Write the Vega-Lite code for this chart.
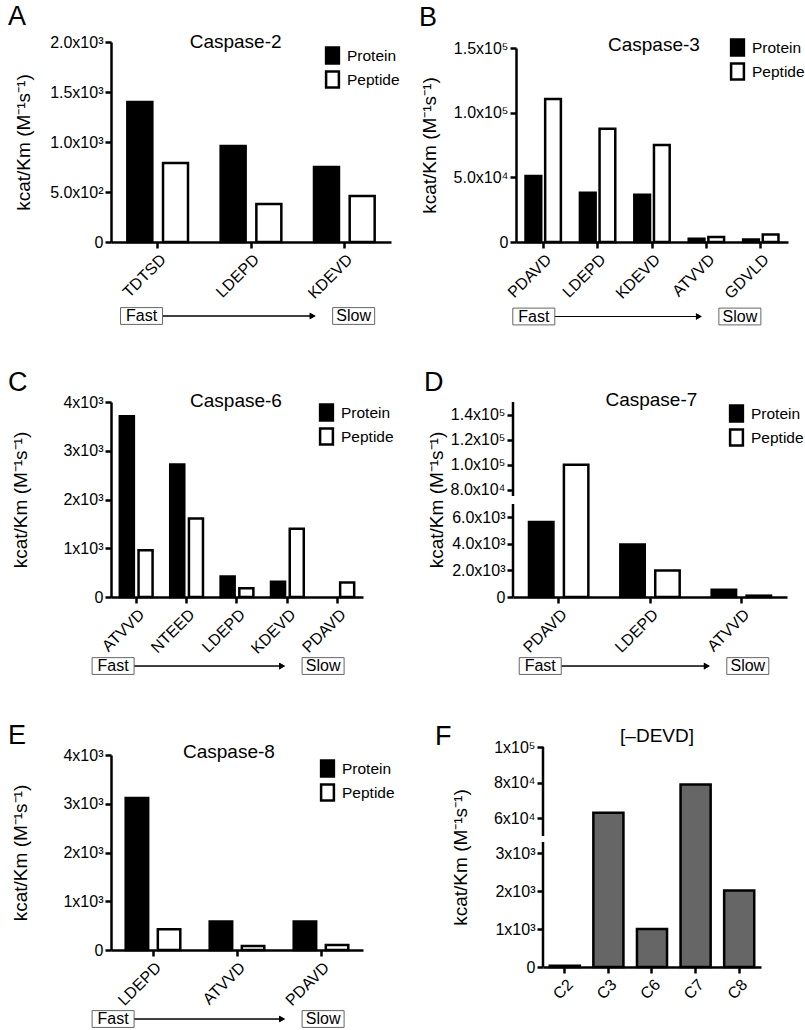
{
  "$schema": "https://vega.github.io/schema/vega-lite/v6.json",
  "padding": {"left": 7, "top": 3, "right": 0, "bottom": 0},
  "background": "white",
  "datasets": {
    "A": [
      {"substrate": "TDTSD", "type": "Protein", "value": 1400},
      {"substrate": "TDTSD", "type": "Peptide", "value": 790},
      {"substrate": "LDEPD", "type": "Protein", "value": 960},
      {"substrate": "LDEPD", "type": "Peptide", "value": 380},
      {"substrate": "KDEVD", "type": "Protein", "value": 750},
      {"substrate": "KDEVD", "type": "Peptide", "value": 460}
    ],
    "B": [
      {"substrate": "PDAVD", "type": "Protein", "value": 51000},
      {"substrate": "PDAVD", "type": "Peptide", "value": 110500},
      {"substrate": "LDEPD", "type": "Protein", "value": 38000},
      {"substrate": "LDEPD", "type": "Peptide", "value": 87500},
      {"substrate": "KDEVD", "type": "Protein", "value": 36500},
      {"substrate": "KDEVD", "type": "Peptide", "value": 75000},
      {"substrate": "ATVVD", "type": "Protein", "value": 2500},
      {"substrate": "ATVVD", "type": "Peptide", "value": 3800},
      {"substrate": "GDVLD", "type": "Protein", "value": 2000},
      {"substrate": "GDVLD", "type": "Peptide", "value": 5800}
    ],
    "C": [
      {"substrate": "ATVVD", "type": "Protein", "value": 3710},
      {"substrate": "ATVVD", "type": "Peptide", "value": 960},
      {"substrate": "NTEED", "type": "Protein", "value": 2720},
      {"substrate": "NTEED", "type": "Peptide", "value": 1610},
      {"substrate": "LDEPD", "type": "Protein", "value": 420},
      {"substrate": "LDEPD", "type": "Peptide", "value": 180},
      {"substrate": "KDEVD", "type": "Protein", "value": 315},
      {"substrate": "KDEVD", "type": "Peptide", "value": 1400},
      {"substrate": "PDAVD", "type": "Peptide", "value": 295}
    ],
    "D": [
      {"substrate": "PDAVD", "type": "Protein", "value": 5650},
      {"substrate": "PDAVD", "type": "Peptide", "value": 100000},
      {"substrate": "LDEPD", "type": "Protein", "value": 3950},
      {"substrate": "LDEPD", "type": "Peptide", "value": 2000},
      {"substrate": "ATVVD", "type": "Protein", "value": 550},
      {"substrate": "ATVVD", "type": "Peptide", "value": 100}
    ],
    "E": [
      {"substrate": "LDEPD", "type": "Protein", "value": 3120},
      {"substrate": "LDEPD", "type": "Peptide", "value": 425},
      {"substrate": "ATVVD", "type": "Protein", "value": 585},
      {"substrate": "ATVVD", "type": "Peptide", "value": 80},
      {"substrate": "PDAVD", "type": "Protein", "value": 585},
      {"substrate": "PDAVD", "type": "Peptide", "value": 105}
    ],
    "F": [
      {"caspase": "C2", "value": 35},
      {"caspase": "C3", "value": 63000},
      {"caspase": "C6", "value": 1000},
      {"caspase": "C7", "value": 79000},
      {"caspase": "C8", "value": 2020}
    ],
    "FS": [{"label": "Fast"}, {"label": "Slow"}],
    "brkD": [{"lo": 0, "hi": 7000}, {"lo": 75000, "hi": 150000}],
    "brkF": [{"lo": 0, "hi": 3300}, {"lo": 50000, "hi": 100000}]
  },
  "resolve": {"scale": {"xOffset": "independent", "fill": "independent"}, "legend": {"fill": "independent"}},
  "columns": 1,
  "align": "none",
  "spacing": 45,
  "concat": [
    {
      "resolve": {"scale": {"xOffset": "independent", "fill": "independent"}, "legend": {"fill": "independent"}},
      "columns": 1,
      "align": "none",
      "spacing": 41,
      "concat": [
        {
          "resolve": {"scale": {"xOffset": "independent", "fill": "independent"}, "legend": {"fill": "independent"}},
          "columns": 2,
          "align": "none",
          "spacing": 18,
          "concat": [
            {
              "width": 280, "height": 200,
              "resolve": {"scale": {"x": "independent", "y": "independent"}},
              "layer": [
                {
                  "data": {"name": "A"},
                  "mark": {"type": "bar", "stroke": "black", "strokeWidth": 2.5},
                  "encoding": {
                    "x": {"field": "substrate", "type": "nominal", "sort": null, "title": null, "scale": {"paddingInner": 0.35, "paddingOuter": 0.175}},
                    "xOffset": {"field": "type", "type": "nominal", "sort": ["Protein", "Peptide"], "scale": {"domain": ["Protein", "Peptide"], "paddingInner": 0.3}},
                    "y": {"field": "value", "type": "quantitative", "scale": {"domain": [0, 2000], "nice": false}, "axis": {"titlePadding": 16, "tickCount": 20, "labelOverlap": false, "values": [0, 500, 1000, 1500, 2000], "labelExpr": "datum.value == 0 ? '0' : datum.value < 1000 ? format(datum.value/100, '.1f') + 'x10²' : format(datum.value/1000, '.1f') + 'x10³'", "title": "kcat/Km (M⁻¹s⁻¹)"}},
                    "fill": {"field": "type", "type": "nominal", "scale": {"domain": ["Protein", "Peptide"], "range": ["black", "white"]}, "legend": {"orient": "none", "legendX": 212, "legendY": 4}}
                  }
                },
                {
                  "data": {"values": [{"t": "A"}]},
                  "mark": {"type": "text", "fontSize": 27, "align": "left", "baseline": "middle", "color": "black"},
                  "encoding": {"text": {"field": "t"}, "x": {"datum": -0.368, "type": "quantitative", "scale": {"domain": [0, 1]}, "axis": null}, "y": {"datum": 1.125, "type": "quantitative", "scale": {"domain": [0, 1]}, "axis": null}}
                },
                {
                  "data": {"values": [{"t": "Caspase-2"}]},
                  "mark": {"type": "text", "fontSize": 19, "align": "center", "baseline": "middle", "color": "black"},
                  "encoding": {"text": {"field": "t"}, "x": {"datum": 0.445, "type": "quantitative", "scale": {"domain": [0, 1]}, "axis": null}, "y": {"datum": 1.0, "type": "quantitative", "scale": {"domain": [0, 1]}, "axis": null}}
                },
                {
                  "data": {"name": "FS"},
                  "mark": {"type": "rule", "color": "black", "strokeWidth": 1, "x2Offset": -42},
                  "encoding": {"x": {"datum": "Fast", "type": "nominal", "scale": {"type": "point", "domain": ["Fast", "Slow"], "padding": 0.16, "align": 0.45}, "axis": null}, "x2": {"datum": "Slow"}, "y": {"datum": -0.37, "type": "quantitative", "scale": {"domain": [0, 1]}, "axis": null}}
                },
                {
                  "data": {"name": "FS"},
                  "mark": {"type": "point", "shape": "triangle-right", "filled": true, "color": "black", "opacity": 1, "size": 45, "xOffset": -41},
                  "encoding": {"x": {"datum": "Slow", "type": "nominal", "scale": {"type": "point", "domain": ["Fast", "Slow"], "padding": 0.16, "align": 0.45}, "axis": null}, "y": {"datum": -0.37, "type": "quantitative", "scale": {"domain": [0, 1]}, "axis": null}}
                },
                {
                  "data": {"name": "FS"},
                  "mark": {"type": "point", "shape": "M-1,-0.4H1V0.4H-1Z", "filled": true, "fill": "white", "stroke": "#666", "strokeWidth": 1, "size": 1764, "opacity": 1},
                  "encoding": {"x": {"field": "label", "type": "nominal", "scale": {"type": "point", "domain": ["Fast", "Slow"], "padding": 0.16, "align": 0.45}, "axis": null}, "y": {"datum": -0.37, "type": "quantitative", "scale": {"domain": [0, 1]}, "axis": null}}
                },
                {
                  "data": {"name": "FS"},
                  "mark": {"type": "text", "fontSize": 16, "color": "black", "baseline": "middle"},
                  "encoding": {"text": {"field": "label"}, "x": {"field": "label", "type": "nominal", "scale": {"type": "point", "domain": ["Fast", "Slow"], "padding": 0.16, "align": 0.45}, "axis": null}, "y": {"datum": -0.37, "type": "quantitative", "scale": {"domain": [0, 1]}, "axis": null}}
                }
              ]
            },
            {
              "width": 272, "height": 200,
              "resolve": {"scale": {"x": "independent", "y": "independent"}},
              "layer": [
                {
                  "data": {"name": "B"},
                  "mark": {"type": "bar", "stroke": "black", "strokeWidth": 2.5},
                  "encoding": {
                    "x": {"field": "substrate", "type": "nominal", "sort": null, "title": null, "scale": {"paddingInner": 0.35, "paddingOuter": 0.175}},
                    "xOffset": {"field": "type", "type": "nominal", "sort": ["Protein", "Peptide"], "scale": {"domain": ["Protein", "Peptide"], "paddingInner": 0.2}},
                    "y": {"field": "value", "type": "quantitative", "scale": {"domain": [0, 150000], "range": [200, 6], "nice": false}, "axis": {"titlePadding": 14, "tickCount": 20, "labelOverlap": false, "values": [0, 50000, 100000, 150000], "labelExpr": "datum.value == 0 ? '0' : datum.value < 100000 ? format(datum.value/10000, '.1f') + 'x10⁴' : format(datum.value/100000, '.1f') + 'x10⁵'", "title": "kcat/Km (M⁻¹s⁻¹)"}},
                    "fill": {"field": "type", "type": "nominal", "scale": {"domain": ["Protein", "Peptide"], "range": ["black", "white"]}, "legend": {"orient": "none", "legendX": 212, "legendY": -4}}
                  }
                },
                {
                  "data": {"values": [{"t": "B"}]},
                  "mark": {"type": "text", "fontSize": 27, "align": "left", "baseline": "middle", "color": "black"},
                  "encoding": {"text": {"field": "t"}, "x": {"datum": -0.357, "type": "quantitative", "scale": {"domain": [0, 1]}, "axis": null}, "y": {"datum": 1.1225, "type": "quantitative", "scale": {"domain": [0, 1]}, "axis": null}}
                },
                {
                  "data": {"values": [{"t": "Caspase-3"}]},
                  "mark": {"type": "text", "fontSize": 19, "align": "center", "baseline": "middle", "color": "black"},
                  "encoding": {"text": {"field": "t"}, "x": {"datum": 0.507, "type": "quantitative", "scale": {"domain": [0, 1]}, "axis": null}, "y": {"datum": 0.985, "type": "quantitative", "scale": {"domain": [0, 1]}, "axis": null}}
                },
                {
                  "data": {"name": "FS"},
                  "mark": {"type": "rule", "color": "black", "strokeWidth": 1, "x2Offset": -42},
                  "encoding": {"x": {"datum": "Fast", "type": "nominal", "scale": {"type": "point", "domain": ["Fast", "Slow"], "padding": 0.16, "align": 0.27}, "axis": null}, "x2": {"datum": "Slow"}, "y": {"datum": -0.3725, "type": "quantitative", "scale": {"domain": [0, 1]}, "axis": null}}
                },
                {
                  "data": {"name": "FS"},
                  "mark": {"type": "point", "shape": "triangle-right", "filled": true, "color": "black", "opacity": 1, "size": 45, "xOffset": -41},
                  "encoding": {"x": {"datum": "Slow", "type": "nominal", "scale": {"type": "point", "domain": ["Fast", "Slow"], "padding": 0.16, "align": 0.27}, "axis": null}, "y": {"datum": -0.3725, "type": "quantitative", "scale": {"domain": [0, 1]}, "axis": null}}
                },
                {
                  "data": {"name": "FS"},
                  "mark": {"type": "point", "shape": "M-1,-0.4H1V0.4H-1Z", "filled": true, "fill": "white", "stroke": "#666", "strokeWidth": 1, "size": 1764, "opacity": 1},
                  "encoding": {"x": {"field": "label", "type": "nominal", "scale": {"type": "point", "domain": ["Fast", "Slow"], "padding": 0.16, "align": 0.27}, "axis": null}, "y": {"datum": -0.3725, "type": "quantitative", "scale": {"domain": [0, 1]}, "axis": null}}
                },
                {
                  "data": {"name": "FS"},
                  "mark": {"type": "text", "fontSize": 16, "color": "black", "baseline": "middle"},
                  "encoding": {"text": {"field": "label"}, "x": {"field": "label", "type": "nominal", "scale": {"type": "point", "domain": ["Fast", "Slow"], "padding": 0.16, "align": 0.27}, "axis": null}, "y": {"datum": -0.3725, "type": "quantitative", "scale": {"domain": [0, 1]}, "axis": null}}
                }
              ]
            }
          ]
        },
        {
          "resolve": {"scale": {"xOffset": "independent", "fill": "independent"}, "legend": {"fill": "independent"}},
          "columns": 2,
          "align": "none",
          "spacing": 29,
          "concat": [
            {
              "width": 252, "height": 195,
              "resolve": {"scale": {"x": "independent", "y": "independent"}},
              "layer": [
                {
                  "data": {"name": "C"},
                  "mark": {"type": "bar", "stroke": "black", "strokeWidth": 2.5},
                  "encoding": {
                    "x": {"field": "substrate", "type": "nominal", "sort": null, "title": null, "scale": {"paddingInner": 0.35, "paddingOuter": 0.175}},
                    "xOffset": {"field": "type", "type": "nominal", "sort": ["Protein", "Peptide"], "scale": {"domain": ["Protein", "Peptide"], "paddingInner": 0.25}},
                    "y": {"field": "value", "type": "quantitative", "scale": {"domain": [0, 4000], "nice": false}, "axis": {"titlePadding": 32, "tickCount": 20, "labelOverlap": false, "values": [0, 1000, 2000, 3000, 4000], "labelExpr": "datum.value == 0 ? '0' : (datum.value/1000) + 'x10³'", "title": "kcat/Km (M⁻¹s⁻¹)"}},
                    "fill": {"field": "type", "type": "nominal", "scale": {"domain": ["Protein", "Peptide"], "range": ["black", "white"]}, "legend": {"orient": "none", "legendX": 206, "legendY": 1}}
                  }
                },
                {
                  "data": {"values": [{"t": "C"}]},
                  "mark": {"type": "text", "fontSize": 27, "align": "left", "baseline": "middle", "color": "black"},
                  "encoding": {"text": {"field": "t"}, "x": {"datum": -0.409, "type": "quantitative", "scale": {"domain": [0, 1]}, "axis": null}, "y": {"datum": 1.1, "type": "quantitative", "scale": {"domain": [0, 1]}, "axis": null}}
                },
                {
                  "data": {"values": [{"t": "Caspase-6"}]},
                  "mark": {"type": "text", "fontSize": 19, "align": "center", "baseline": "middle", "color": "black"},
                  "encoding": {"text": {"field": "t"}, "x": {"datum": 0.496, "type": "quantitative", "scale": {"domain": [0, 1]}, "axis": null}, "y": {"datum": 1.005, "type": "quantitative", "scale": {"domain": [0, 1]}, "axis": null}}
                },
                {
                  "data": {"name": "FS"},
                  "mark": {"type": "rule", "color": "black", "strokeWidth": 1, "x2Offset": -42},
                  "encoding": {"x": {"datum": "Fast", "type": "nominal", "scale": {"type": "point", "domain": ["Fast", "Slow"], "padding": 0.1, "align": 0.05}, "axis": null}, "x2": {"datum": "Slow"}, "y": {"datum": -0.354, "type": "quantitative", "scale": {"domain": [0, 1]}, "axis": null}}
                },
                {
                  "data": {"name": "FS"},
                  "mark": {"type": "point", "shape": "triangle-right", "filled": true, "color": "black", "opacity": 1, "size": 45, "xOffset": -41},
                  "encoding": {"x": {"datum": "Slow", "type": "nominal", "scale": {"type": "point", "domain": ["Fast", "Slow"], "padding": 0.1, "align": 0.05}, "axis": null}, "y": {"datum": -0.354, "type": "quantitative", "scale": {"domain": [0, 1]}, "axis": null}}
                },
                {
                  "data": {"name": "FS"},
                  "mark": {"type": "point", "shape": "M-1,-0.4H1V0.4H-1Z", "filled": true, "fill": "white", "stroke": "#666", "strokeWidth": 1, "size": 1764, "opacity": 1},
                  "encoding": {"x": {"field": "label", "type": "nominal", "scale": {"type": "point", "domain": ["Fast", "Slow"], "padding": 0.1, "align": 0.05}, "axis": null}, "y": {"datum": -0.354, "type": "quantitative", "scale": {"domain": [0, 1]}, "axis": null}}
                },
                {
                  "data": {"name": "FS"},
                  "mark": {"type": "text", "fontSize": 16, "color": "black", "baseline": "middle"},
                  "encoding": {"text": {"field": "label"}, "x": {"field": "label", "type": "nominal", "scale": {"type": "point", "domain": ["Fast", "Slow"], "padding": 0.1, "align": 0.05}, "axis": null}, "y": {"datum": -0.354, "type": "quantitative", "scale": {"domain": [0, 1]}, "axis": null}}
                }
              ]
            },
            {
              "width": 274, "height": 195,
              "resolve": {"scale": {"x": "independent", "y": "independent"}},
              "layer": [
                {
                  "data": {"name": "D"},
                  "mark": {"type": "bar", "stroke": "black", "strokeWidth": 2.5},
                  "encoding": {
                    "x": {"field": "substrate", "type": "nominal", "sort": null, "title": null, "scale": {"paddingInner": 0.35, "paddingOuter": 0.175}},
                    "xOffset": {"field": "type", "type": "nominal", "sort": ["Protein", "Peptide"], "scale": {"domain": ["Protein", "Peptide"], "paddingInner": 0.3}},
                    "y": {"field": "value", "type": "quantitative", "scale": {"domain": [0, 7000, 75000, 150000], "range": [195, 102, 94, 0], "nice": false, "zero": false}, "axis": {"titlePadding": 4, "tickCount": 20, "labelOverlap": false, "domain": false, "values": [0, 2000, 4000, 6000, 80000, 100000, 120000, 140000], "labelExpr": "datum.value == 0 ? '0' : datum.value < 10000 ? format(datum.value/1000, '.1f') + 'x10³' : datum.value < 100000 ? format(datum.value/10000, '.1f') + 'x10⁴' : format(datum.value/100000, '.1f') + 'x10⁵'", "title": "kcat/Km (M⁻¹s⁻¹)"}},
                    "fill": {"field": "type", "type": "nominal", "scale": {"domain": ["Protein", "Peptide"], "range": ["black", "white"]}, "legend": {"orient": "none", "legendX": 214, "legendY": 2}}
                  }
                },
                {
                  "data": {"name": "brkD"},
                  "mark": {"type": "rule", "color": "black", "strokeWidth": 2.5},
                  "encoding": {
                    "x": {"datum": 0, "type": "quantitative", "scale": {"domain": [0, 1]}, "axis": null},
                    "y": {"field": "lo", "type": "quantitative", "scale": {"domain": [0, 7000, 75000, 150000], "range": [195, 102, 94, 0], "nice": false, "zero": false}, "axis": null},
                    "y2": {"field": "hi"}
                  }
                },
                {
                  "data": {"values": [{"t": "D"}]},
                  "mark": {"type": "text", "fontSize": 27, "align": "left", "baseline": "middle", "color": "black"},
                  "encoding": {"text": {"field": "t"}, "x": {"datum": -0.325, "type": "quantitative", "scale": {"domain": [0, 1]}, "axis": null}, "y": {"datum": 1.1, "type": "quantitative", "scale": {"domain": [0, 1]}, "axis": null}}
                },
                {
                  "data": {"values": [{"t": "Caspase-7"}]},
                  "mark": {"type": "text", "fontSize": 19, "align": "center", "baseline": "middle", "color": "black"},
                  "encoding": {"text": {"field": "t"}, "x": {"datum": 0.505, "type": "quantitative", "scale": {"domain": [0, 1]}, "axis": null}, "y": {"datum": 1.01, "type": "quantitative", "scale": {"domain": [0, 1]}, "axis": null}}
                },
                {
                  "data": {"name": "FS"},
                  "mark": {"type": "rule", "color": "black", "strokeWidth": 1, "x2Offset": -42},
                  "encoding": {"x": {"datum": "Fast", "type": "nominal", "scale": {"type": "point", "domain": ["Fast", "Slow"], "padding": 0.16, "align": 0.41}, "axis": null}, "x2": {"datum": "Slow"}, "y": {"datum": -0.354, "type": "quantitative", "scale": {"domain": [0, 1]}, "axis": null}}
                },
                {
                  "data": {"name": "FS"},
                  "mark": {"type": "point", "shape": "triangle-right", "filled": true, "color": "black", "opacity": 1, "size": 45, "xOffset": -41},
                  "encoding": {"x": {"datum": "Slow", "type": "nominal", "scale": {"type": "point", "domain": ["Fast", "Slow"], "padding": 0.16, "align": 0.41}, "axis": null}, "y": {"datum": -0.354, "type": "quantitative", "scale": {"domain": [0, 1]}, "axis": null}}
                },
                {
                  "data": {"name": "FS"},
                  "mark": {"type": "point", "shape": "M-1,-0.4H1V0.4H-1Z", "filled": true, "fill": "white", "stroke": "#666", "strokeWidth": 1, "size": 1764, "opacity": 1},
                  "encoding": {"x": {"field": "label", "type": "nominal", "scale": {"type": "point", "domain": ["Fast", "Slow"], "padding": 0.16, "align": 0.41}, "axis": null}, "y": {"datum": -0.354, "type": "quantitative", "scale": {"domain": [0, 1]}, "axis": null}}
                },
                {
                  "data": {"name": "FS"},
                  "mark": {"type": "text", "fontSize": 16, "color": "black", "baseline": "middle"},
                  "encoding": {"text": {"field": "label"}, "x": {"field": "label", "type": "nominal", "scale": {"type": "point", "domain": ["Fast", "Slow"], "padding": 0.16, "align": 0.41}, "axis": null}, "y": {"datum": -0.354, "type": "quantitative", "scale": {"domain": [0, 1]}, "axis": null}}
                }
              ]
            }
          ]
        }
      ]
    },
    {
      "resolve": {"scale": {"xOffset": "independent", "fill": "independent"}, "legend": {"fill": "independent"}},
      "columns": 2,
      "align": "none",
      "spacing": 40,
      "concat": [
        {
          "width": 252, "height": 203,
          "resolve": {"scale": {"x": "independent", "y": "independent"}},
          "layer": [
            {
              "data": {"name": "E"},
              "mark": {"type": "bar", "stroke": "black", "strokeWidth": 2.5},
              "encoding": {
                "x": {"field": "substrate", "type": "nominal", "sort": null, "title": null, "scale": {"paddingInner": 0.35, "paddingOuter": 0.175}},
                "xOffset": {"field": "type", "type": "nominal", "sort": ["Protein", "Peptide"], "scale": {"domain": ["Protein", "Peptide"], "paddingInner": 0.3}},
                "y": {"field": "value", "type": "quantitative", "scale": {"domain": [0, 4000], "range": [203, 8], "nice": false}, "axis": {"titlePadding": 32, "tickCount": 20, "labelOverlap": false, "values": [0, 1000, 2000, 3000, 4000], "labelExpr": "datum.value == 0 ? '0' : (datum.value/1000) + 'x10³'", "title": "kcat/Km (M⁻¹s⁻¹)"}},
                "fill": {"field": "type", "type": "nominal", "scale": {"domain": ["Protein", "Peptide"], "range": ["black", "white"]}, "legend": {"orient": "none", "legendX": 207, "legendY": 12}}
              }
            },
            {
              "data": {"values": [{"t": "E"}]},
              "mark": {"type": "text", "fontSize": 27, "align": "left", "baseline": "middle", "color": "black"},
              "encoding": {"text": {"field": "t"}, "x": {"datum": -0.409, "type": "quantitative", "scale": {"domain": [0, 1]}, "axis": null}, "y": {"datum": 1.052, "type": "quantitative", "scale": {"domain": [0, 1]}, "axis": null}}
            },
            {
              "data": {"values": [{"t": "Caspase-8"}]},
              "mark": {"type": "text", "fontSize": 19, "align": "center", "baseline": "middle", "color": "black"},
              "encoding": {"text": {"field": "t"}, "x": {"datum": 0.468, "type": "quantitative", "scale": {"domain": [0, 1]}, "axis": null}, "y": {"datum": 0.975, "type": "quantitative", "scale": {"domain": [0, 1]}, "axis": null}}
            },
            {
              "data": {"name": "FS"},
              "mark": {"type": "rule", "color": "black", "strokeWidth": 1, "x2Offset": -42},
              "encoding": {"x": {"datum": "Fast", "type": "nominal", "scale": {"type": "point", "domain": ["Fast", "Slow"], "padding": 0.1, "align": 0.05}, "axis": null}, "x2": {"datum": "Slow"}, "y": {"datum": -0.34, "type": "quantitative", "scale": {"domain": [0, 1]}, "axis": null}}
            },
            {
              "data": {"name": "FS"},
              "mark": {"type": "point", "shape": "triangle-right", "filled": true, "color": "black", "opacity": 1, "size": 45, "xOffset": -41},
              "encoding": {"x": {"datum": "Slow", "type": "nominal", "scale": {"type": "point", "domain": ["Fast", "Slow"], "padding": 0.1, "align": 0.05}, "axis": null}, "y": {"datum": -0.34, "type": "quantitative", "scale": {"domain": [0, 1]}, "axis": null}}
            },
            {
              "data": {"name": "FS"},
              "mark": {"type": "point", "shape": "M-1,-0.4H1V0.4H-1Z", "filled": true, "fill": "white", "stroke": "#666", "strokeWidth": 1, "size": 1764, "opacity": 1},
              "encoding": {"x": {"field": "label", "type": "nominal", "scale": {"type": "point", "domain": ["Fast", "Slow"], "padding": 0.1, "align": 0.05}, "axis": null}, "y": {"datum": -0.34, "type": "quantitative", "scale": {"domain": [0, 1]}, "axis": null}}
            },
            {
              "data": {"name": "FS"},
              "mark": {"type": "text", "fontSize": 16, "color": "black", "baseline": "middle"},
              "encoding": {"text": {"field": "label"}, "x": {"field": "label", "type": "nominal", "scale": {"type": "point", "domain": ["Fast", "Slow"], "padding": 0.1, "align": 0.05}, "axis": null}, "y": {"datum": -0.34, "type": "quantitative", "scale": {"domain": [0, 1]}, "axis": null}}
            }
          ]
        },
        {
          "width": 218, "height": 220,
          "resolve": {"scale": {"x": "independent", "y": "independent"}},
          "layer": [
            {
              "data": {"name": "F"},
              "mark": {"type": "bar", "stroke": "black", "strokeWidth": 2.5, "fill": "#666666"},
              "encoding": {
                "x": {"field": "caspase", "type": "nominal", "sort": null, "title": null, "scale": {"paddingInner": 0.31, "paddingOuter": 0.155}},
                "y": {"field": "value", "type": "quantitative", "scale": {"domain": [0, 3300, 50000, 100000], "range": [220, 95, 89, 0], "nice": false, "zero": false}, "axis": {"titlePadding": 23, "tickCount": 20, "labelOverlap": false, "domain": false, "values": [0, 1000, 2000, 3000, 60000, 80000, 100000], "labelExpr": "datum.value == 0 ? '0' : datum.value < 10000 ? (datum.value/1000) + 'x10³' : datum.value < 100000 ? (datum.value/10000) + 'x10⁴' : (datum.value/100000) + 'x10⁵'", "title": "kcat/Km (M⁻¹s⁻¹)"}}
              }
            },
            {
              "data": {"name": "brkF"},
              "mark": {"type": "rule", "color": "black", "strokeWidth": 2.5},
              "encoding": {
                "x": {"datum": 0, "type": "quantitative", "scale": {"domain": [0, 1]}, "axis": null},
                "y": {"field": "lo", "type": "quantitative", "scale": {"domain": [0, 3300, 50000, 100000], "range": [220, 95, 89, 0], "nice": false, "zero": false}, "axis": null},
                "y2": {"field": "hi"}
              }
            },
            {
              "data": {"values": [{"t": "F"}]},
              "mark": {"type": "text", "fontSize": 27, "align": "left", "baseline": "middle", "color": "black"},
              "encoding": {"text": {"field": "t"}, "x": {"datum": -0.495, "type": "quantitative", "scale": {"domain": [0, 1]}, "axis": null}, "y": {"datum": 1.046, "type": "quantitative", "scale": {"domain": [0, 1]}, "axis": null}}
            },
            {
              "data": {"values": [{"t": "[–DEVD]"}]},
              "mark": {"type": "text", "fontSize": 19, "align": "center", "baseline": "middle", "color": "black"},
              "encoding": {"text": {"field": "t"}, "x": {"datum": 0.523, "type": "quantitative", "scale": {"domain": [0, 1]}, "axis": null}, "y": {"datum": 1.05, "type": "quantitative", "scale": {"domain": [0, 1]}, "axis": null}}
            }
          ]
        }
      ]
    }
  ],
  "config": {
    "font": "Liberation Sans",
    "view": {"stroke": null},
    "axis": {"domainColor": "black", "domainWidth": 2.5, "tickColor": "black", "tickWidth": 2.5, "tickSize": 6, "labelColor": "black", "labelFontSize": 16, "titleColor": "black", "titleFontSize": 19, "titleFontWeight": "normal", "grid": false, "labelOverlap": false},
    "axisX": {"labelAngle": -45, "labelPadding": 3},
    "legend": {"title": null, "padding": 0, "labelFontSize": 15.5, "labelColor": "black", "symbolType": "M-0.8,-1H0.8V1H-0.8Z", "symbolSize": 256, "symbolStrokeColor": "black", "symbolStrokeWidth": 2.5, "rowPadding": -3, "labelOffset": 5}
  }
}
